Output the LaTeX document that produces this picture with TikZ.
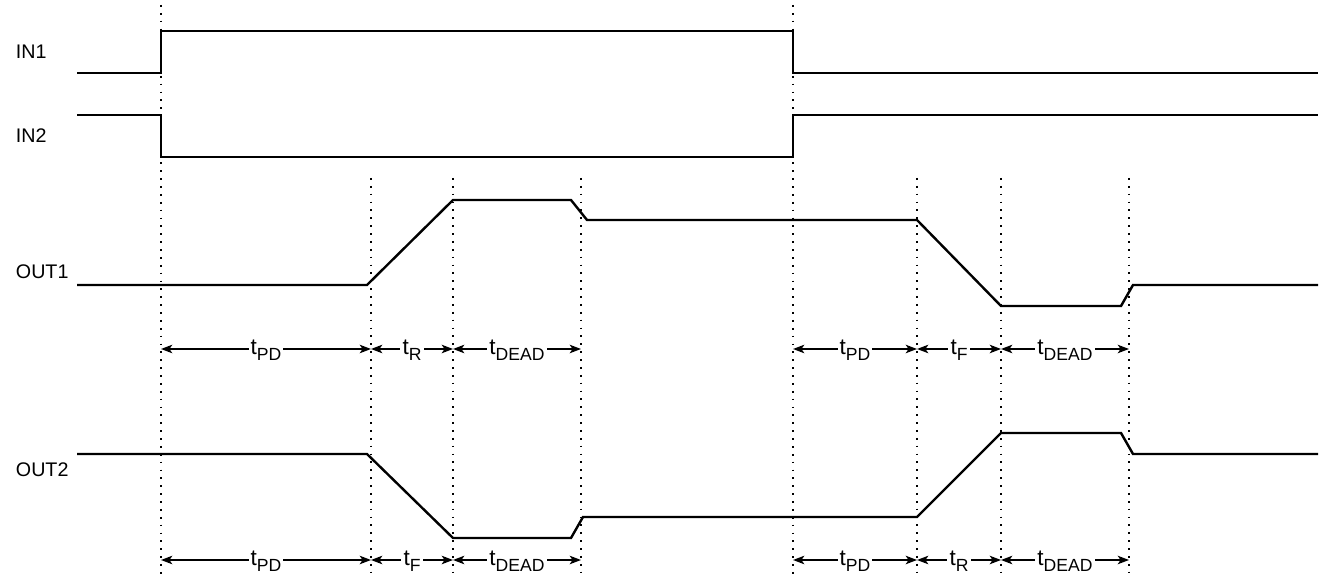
\documentclass[tikz,border=0pt]{standalone}
\usepackage{fontspec}
\setmainfont{Liberation Sans}
\usetikzlibrary{arrows.meta}

\newcommand{\tsub}[1]{t\raisebox{-0.5ex}{\fontsize{12.5}{13}\selectfont #1}}

\begin{document}
\begin{tikzpicture}[x=0.025cm, y=-0.025cm,
        wave/.style={line width=1.7pt, line join=miter},
        guide/.style={line width=1.2pt, dash pattern=on 1.2pt off 4.4pt},
        dim/.style={{Stealth[length=8pt,width=6pt,inset=2pt]}-{Stealth[length=8pt,width=6pt,inset=2pt]}, line width=1.3pt},
        sig/.style={anchor=west, font=\fontsize{14}{16}\selectfont},
        tlab/.style={fill=white, inner sep=1.5pt, yshift=-1pt, font=\fontsize{16}{17}\selectfont}
    ]
    \useasboundingbox (0,0) rectangle (1320,576);

    % Signal names
    \node[sig] (in1) at (11, 52) {IN1};
    \node[sig] (in2) at (11, 136) {IN2};
    \node[sig] (out1) at (11, 272) {OUT1};
    \node[sig] (out2) at (11, 470) {OUT2};

    % Timing marks
    \draw[guide] (161, 5) -- (161, 576);
    \draw[guide] (793, 5) -- (793, 576);
    \foreach \x in {371, 453, 581, 917, 1001, 1129}
        \draw[guide] (\x, 178) -- (\x, 576);

    % Inputs
    \draw[wave] (77, 73) -| (161, 31) -| (793, 73) -- (1318, 73);
    \draw[wave] (77, 115) -| (161, 157) -| (793, 115) -- (1318, 115);

    % Outputs
    \draw[wave] (77, 285) -- (367, 285) -- (453, 200) -- (571, 200) -- (587, 220)
        -- (917, 220) -- (1001, 306) -- (1121, 306) -- (1133, 285) -- (1318, 285);
    \draw[wave] (77, 454) -- (367, 454) -- (453, 538) -- (571, 538) -- (583, 517)
        -- (917, 517) -- (1001, 433) -- (1121, 433) -- (1133, 454) -- (1318, 454);

    % Delay markers, OUT1
    \coordinate (a0) at (161, 349);
    \coordinate (a1) at (371, 349);
    \coordinate (a2) at (453, 349);
    \coordinate (a3) at (581, 349);
    \coordinate (a4) at (793, 349);
    \coordinate (a5) at (917, 349);
    \coordinate (a6) at (1001, 349);
    \coordinate (a7) at (1129, 349);
    \draw[dim] (a0) -- node[tlab] (pd1) {\tsub{PD}} (a1);
    \draw[dim] (a1) -- node[tlab] (r1) {\tsub{R}} (a2);
    \draw[dim] (a2) -- node[tlab] (dead1) {\tsub{DEAD}} (a3);
    \draw[dim] (a4) -- node[tlab] (pd2) {\tsub{PD}} (a5);
    \draw[dim] (a5) -- node[tlab] (f1) {\tsub{F}} (a6);
    \draw[dim] (a6) -- node[tlab] (dead2) {\tsub{DEAD}} (a7);

    % Delay markers, OUT2
    \coordinate (b0) at (161, 560);
    \coordinate (b1) at (371, 560);
    \coordinate (b2) at (453, 560);
    \coordinate (b3) at (581, 560);
    \coordinate (b4) at (793, 560);
    \coordinate (b5) at (917, 560);
    \coordinate (b6) at (1001, 560);
    \coordinate (b7) at (1129, 560);
    \draw[dim] (b0) -- node[tlab] (pd3) {\tsub{PD}} (b1);
    \draw[dim] (b1) -- node[tlab] (f2) {\tsub{F}} (b2);
    \draw[dim] (b2) -- node[tlab] (dead3) {\tsub{DEAD}} (b3);
    \draw[dim] (b4) -- node[tlab] (pd4) {\tsub{PD}} (b5);
    \draw[dim] (b5) -- node[tlab] (r2) {\tsub{R}} (b6);
    \draw[dim] (b6) -- node[tlab] (dead4) {\tsub{DEAD}} (b7);

\end{tikzpicture}
\end{document}
